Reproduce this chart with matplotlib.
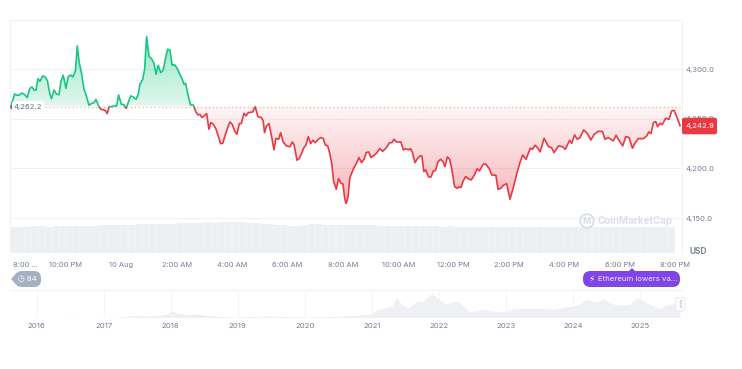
import matplotlib
matplotlib.use("Agg")
import matplotlib.pyplot as plt
import numpy as np
from matplotlib.patches import Circle, FancyBboxPatch, Polygon, Rectangle
from matplotlib.ticker import FuncFormatter
from matplotlib.transforms import ScaledTranslation

plt.rcParams['font.family'] = ['Inter', 'DejaVu Sans']

# hours since 8:00 PM on the day before
hours = [0.01, 0.07, 0.15, 0.22, 0.30, 0.41, 0.52, 0.60, 0.70, 0.77, 0.86, 0.92, 0.99, 1.06, 1.16, 1.24, 1.33, 1.42,
         1.48, 1.57, 1.66, 1.75, 1.82, 1.90, 2.00, 2.08, 2.17, 2.25, 2.34, 2.41, 2.48, 2.57, 2.65, 2.72, 2.83, 2.93,
         3.02, 3.08, 3.19, 3.26, 3.37, 3.42, 3.49, 3.56, 3.65, 3.73, 3.83, 3.90, 4.00, 4.09, 4.17, 4.25, 4.33, 4.43,
         4.53, 4.61, 4.67, 4.77, 4.84, 4.91, 5.00, 5.09, 5.18, 5.25, 5.33, 5.42, 5.51, 5.60, 5.67, 5.75, 5.84, 5.92,
         6.02, 6.11, 6.20, 6.26, 6.32, 6.42, 6.50, 6.60, 6.69, 6.77, 6.84, 6.91, 6.98, 7.08, 7.16, 7.23, 7.32, 7.41,
         7.50, 7.58, 7.66, 7.74, 7.84, 7.92, 8.00, 8.09, 8.17, 8.26, 8.33, 8.43, 8.50, 8.58, 8.74, 8.83, 8.93, 9.06,
         9.12, 9.17, 9.24, 9.33, 9.42, 9.51, 9.58, 9.68, 9.75, 9.84, 9.96, 10.09, 10.17, 10.24, 10.34, 10.42, 10.52,
         10.59, 10.66, 10.75, 10.83, 10.92, 11.00, 11.11, 11.20, 11.29, 11.36, 11.45, 11.53, 11.60, 11.66, 11.76,
         11.84, 11.93, 12.00, 12.06, 12.11, 12.18, 12.25, 12.37, 12.49, 12.58, 12.67, 12.76, 12.84, 12.93, 13.01,
         13.13, 13.21, 13.33, 13.43, 13.57, 13.68, 13.77, 13.84, 13.94, 14.09, 14.18, 14.26, 14.36, 14.44, 14.51,
         14.60, 14.69, 14.78, 14.85, 14.92, 14.99, 15.09, 15.18, 15.26, 15.34, 15.43, 15.52, 15.61, 15.68, 15.77,
         15.85, 15.93, 16.03, 16.13, 16.19, 16.26, 16.34, 16.43, 16.52, 16.63, 16.74, 16.85, 16.93, 17.06, 17.16,
         17.28, 17.37, 17.52, 17.60, 17.70, 17.79, 17.91, 18.03, 18.15, 18.27, 18.39, 18.49, 18.61, 18.76, 18.84,
         18.94, 19.02, 19.12, 19.26, 19.42, 19.53, 19.62, 19.78, 19.92, 20.03, 20.18, 20.26, 20.36, 20.46, 20.56,
         20.69, 20.82, 20.95, 21.07, 21.22, 21.37, 21.46, 21.58, 21.67, 21.76, 21.86, 21.98, 22.10, 22.21, 22.33,
         22.45, 22.55, 22.67, 22.85, 22.97, 23.04, 23.12, 23.21, 23.29, 23.36, 23.45, 23.53, 23.65, 23.77, 23.87,
         23.95, 24.05, 24.17]
prices = [4262.2, 4267.9, 4274.9, 4273.6, 4273.6, 4275.9, 4273.9, 4271.2, 4280.6, 4281.9, 4278.6, 4278.9, 4290.3,
          4287.6, 4293.0, 4292.3, 4288.3, 4274.6, 4270.2, 4278.9, 4274.6, 4274.2, 4288.0, 4293.7, 4280.6, 4292.3,
          4294.0, 4292.0, 4298.0, 4323.2, 4306.4, 4294.7, 4279.6, 4274.6, 4263.5, 4265.5, 4266.2, 4269.5, 4262.2,
          4259.5, 4258.8, 4258.1, 4255.1, 4262.2, 4262.2, 4262.8, 4262.8, 4273.9, 4264.5, 4264.2, 4260.5, 4266.2,
          4272.9, 4271.9, 4269.5, 4274.6, 4284.6, 4289.6, 4299.7, 4332.6, 4312.4, 4310.4, 4305.7, 4294.7, 4303.7,
          4296.4, 4299.0, 4311.4, 4319.8, 4319.5, 4303.7, 4304.4, 4300.4, 4294.7, 4289.6, 4284.6, 4285.6, 4272.2,
          4263.8, 4263.8, 4256.8, 4253.8, 4254.4, 4251.1, 4252.8, 4255.1, 4239.4, 4246.1, 4244.4, 4240.0, 4232.6,
          4224.9, 4225.3, 4232.6, 4241.0, 4246.7, 4244.4, 4237.7, 4234.3, 4245.1, 4245.1, 4255.4, 4252.8, 4256.1,
          4256.8, 4262.2, 4252.1, 4251.1, 4247.7, 4236.0, 4242.7, 4245.1, 4232.7, 4218.6, 4230.3, 4229.3, 4236.0,
          4226.6, 4222.6, 4221.9, 4226.6, 4223.3, 4208.2, 4209.9, 4215.9, 4220.9, 4223.3, 4232.0, 4224.9, 4228.3,
          4225.9, 4229.3, 4231.0, 4230.0, 4223.6, 4222.6, 4214.2, 4204.2, 4187.4, 4179.0, 4189.7, 4185.0, 4184.4,
          4170.6, 4164.6, 4170.6, 4190.7, 4199.1, 4205.2, 4210.9, 4205.8, 4209.2, 4215.9, 4216.6, 4210.9, 4213.2,
          4215.2, 4219.9, 4217.2, 4220.9, 4225.9, 4225.9, 4229.3, 4226.6, 4226.6, 4218.6, 4219.9, 4218.6, 4219.9,
          4215.9, 4205.8, 4209.9, 4212.5, 4212.5, 4196.8, 4198.5, 4191.4, 4191.4, 4197.4, 4197.8, 4206.5, 4209.2,
          4207.2, 4201.8, 4211.5, 4209.2, 4199.1, 4181.7, 4180.0, 4181.4, 4180.7, 4187.4, 4191.8, 4189.7, 4188.4,
          4193.1, 4199.8, 4197.4, 4204.2, 4204.2, 4199.8, 4193.4, 4193.1, 4179.0, 4180.0, 4183.0, 4184.7, 4169.0,
          4180.7, 4194.1, 4205.8, 4213.5, 4209.2, 4220.3, 4219.2, 4223.3, 4220.9, 4216.6, 4230.3, 4221.9, 4220.9,
          4215.9, 4222.6, 4221.9, 4219.2, 4228.3, 4225.3, 4233.7, 4229.3, 4231.0, 4238.7, 4235.3, 4228.6, 4234.3,
          4237.4, 4237.0, 4229.3, 4231.0, 4229.3, 4227.6, 4233.3, 4227.6, 4222.6, 4232.0, 4231.0, 4220.3, 4225.9,
          4230.0, 4230.0, 4232.7, 4236.7, 4235.0, 4246.1, 4247.1, 4242.0, 4245.4, 4244.1, 4250.4, 4249.4, 4257.8,
          4258.5, 4252.1, 4242.9]
open_price = 4262.2

# volume bars, one per 15 minutes (relative height)
volume = [26.6, 26.8, 26.5, 26.9, 27.0, 26.8, 27.1, 27.0, 27.2, 27.0, 27.4, 27.2, 27.6, 28.0, 28.4, 28.2, 28.8, 28.6,
          29.0, 29.3, 29.0, 29.5, 29.8, 29.6, 30.1, 30.4, 30.2, 30.7, 31.0, 30.8, 31.3, 31.2, 31.0, 31.1, 30.6, 30.0,
          29.4, 29.0, 28.6, 28.0, 27.6, 27.8, 28.4, 29.0, 29.1, 28.8, 28.6, 28.8, 28.6, 28.5, 28.6, 28.4, 28.0, 27.8,
          27.5, 27.8, 27.6, 27.4, 27.2, 27.4, 27.1, 27.0, 26.8, 26.9, 26.5, 26.3, 26.6, 26.3, 26.5, 26.3, 26.6, 26.4,
          26.2, 26.5, 26.3, 26.6, 26.4, 26.2, 26.4, 26.3, 26.5, 26.2, 26.4, 26.3, 26.5, 26.2, 26.3, 26.4, 26.2, 26.3,
          26.4, 26.2, 26.3, 26.1, 26.2, 26.0]

hour_ticks = [0, 2, 4, 6, 8, 10, 12, 14, 16, 18, 20, 22, 24]
hour_labels = ['8:00 ...', '10:00 PM', '10 Aug', '2:00 AM', '4:00 AM', '6:00 AM', '8:00 AM', '10:00 AM', '12:00 PM',
               '2:00 PM', '4:00 PM', '6:00 PM', '8:00 PM']
price_ticks = [4150, 4200, 4250, 4300]

# full history for the navigator
nav_years = [2015.6, 2016, 2016.2, 2016.5, 2017, 2017.2, 2017.45, 2017.6, 2017.8, 2017.95, 2018.03, 2018.1, 2018.2,
             2018.3, 2018.37, 2018.5, 2018.7, 2018.95, 2019, 2019.4, 2019.5, 2019.7, 2020, 2020.2, 2020.5, 2020.65,
             2020.9, 2021, 2021.1, 2021.2, 2021.3, 2021.37, 2021.45, 2021.55, 2021.62, 2021.7, 2021.75, 2021.85,
             2021.9, 2022, 2022.1, 2022.25, 2022.33, 2022.45, 2022.55, 2022.65, 2022.8, 2022.95, 2023, 2023.1, 2023.3,
             2023.5, 2023.7, 2023.9, 2024, 2024.1, 2024.2, 2024.35, 2024.45, 2024.6, 2024.7, 2024.85, 2024.95, 2025.05,
             2025.15, 2025.3, 2025.4, 2025.5, 2025.6]
nav_values = [1, 1, 10, 14, 8, 40, 350, 300, 300, 750, 1250, 900, 600, 500, 750, 470, 220, 110, 140, 270, 290, 180, 130,
              130, 240, 400, 550, 740, 1700, 1900, 2400, 4000, 2500, 2000, 2700, 3400, 3000, 4400, 4700, 3700, 2700,
              3300, 2800, 1200, 1300, 1700, 1300, 1200, 1250, 1650, 1900, 1900, 1650, 2100, 2300, 2700, 3600, 3100,
              3700, 2700, 2500, 2600, 3900, 3300, 2600, 1700, 2500, 2800, 3000]
year_ticks = list(range(2016, 2026))

GREEN = '#16c784'
RED = '#ea3943'
GRID = '#eff2f5'
TXT = '#747f92'
W, H = 742, 369


def px_axes(x0, y0, x1, y1, **kw):
    return fig.add_axes([x0 / W, 1 - y1 / H, (x1 - x0) / W, (y1 - y0) / H], **kw)


fig = plt.figure(figsize=(7.42, 3.69), dpi=100)

# volume sits under the price axes
ax_vol = px_axes(10, 218, 682, 253.3)
vol_t = np.arange(len(volume)) * 0.25 + 0.12
ax_vol.bar(vol_t, volume, width=0.25, color='#f0f2f5', linewidth=0, zorder=0)
ax_vol.bar(vol_t, volume, width=0.2, color='#edeff3', linewidth=0)
ax_vol.set_xlim(-0.02, 24.24)
ax_vol.set_ylim(0, 35.3)
ax_vol.axis('off')

ax = px_axes(10, 20, 682, 253.3)
ax.patch.set_alpha(0)
ax.set_xlim(-0.02, 24.24)
ax.set_ylim(4114.6, 4349.3)
for s in ['top', 'left', 'bottom']:
    ax.spines[s].set_visible(False)
ax.spines['right'].set_color(GRID)
ax.spines['right'].set_linewidth(0.8)
ax.axvline(-0.02, color=GRID, lw=0.8)
ax.axhline(4349.3, color=GRID, lw=0.8)
ax.set_yticks(price_ticks)
ax.yaxis.tick_right()
ax.yaxis.set_major_formatter(FuncFormatter(lambda v, p: f'{v:,.1f}'))
ax.tick_params(axis='y', length=0, labelsize=5.5, labelcolor=TXT, pad=2.8)
ax.grid(axis='y', color=GRID, lw=0.8)
ax.set_axisbelow(True)
ax.set_xticks(hour_ticks)
ax.set_xticklabels(hour_labels)
ax.tick_params(axis='x', length=0, labelsize=5.4, labelcolor=TXT, pad=6)
first = ax.get_xticklabels()[0]
first.set_ha('left')
first.set_transform(first.get_transform() + ScaledTranslation(2 / 100, 0, fig.dpi_scale_trans))

# gradient fill, green above the open price and red below
ys = np.linspace(4349.3, 4114.6, 300)
grad = np.zeros((300, 1, 4))
up = ys >= open_price
grad[up, 0, :3] = matplotlib.colors.to_rgb(GREEN)
grad[up, 0, 3] = 0.13 + (ys[up] - open_price) / 70 * 0.32
grad[~up, 0, :3] = matplotlib.colors.to_rgb(RED)
grad[~up, 0, 3] = 0.05 + (open_price - ys[~up]) / 100 * 0.32
area = ax.fill_between(hours, prices, open_price, color='none')
img = ax.imshow(grad, extent=[-0.02, 24.24, 4114.6, 4349.3], aspect='auto', zorder=1.5)
img.set_clip_path(area.get_paths()[0], ax.transData)
ax.set_xlim(-0.02, 24.24)
ax.set_ylim(4114.6, 4349.3)

ax.axhline(open_price, color='#d9a9a0', lw=0.8, ls=(0, (1, 2.5)), zorder=2)

line_up, = ax.plot(hours, prices, color=GREEN, lw=1.2, zorder=3)
line_up.set_clip_path(Rectangle((-1, open_price), 30, 200, transform=ax.transData))
line_dn, = ax.plot(hours, prices, color=RED, lw=1.2, zorder=3)
line_dn.set_clip_path(Rectangle((-1, open_price - 200), 30, 200, transform=ax.transData))

# navigator
ax_nav = px_axes(10, 290, 682, 317.5)
ax_nav.fill_between(nav_years, nav_values, 0, color='#eef0f3', lw=0)
ax_nav.set_xlim(2015.6, 2025.63)
ax_nav.set_ylim(0, 5500)
for s in ['left', 'right', 'bottom']:
    ax_nav.spines[s].set_visible(False)
ax_nav.spines['top'].set_color(GRID)
ax_nav.spines['top'].set_linewidth(0.8)
ax_nav.set_yticks([])
ax_nav.set_xticks(year_ticks)
ax_nav.set_xticklabels([str(y) for y in year_ticks])
ax_nav.tick_params(axis='x', length=0, labelsize=5.6, labelcolor=TXT, pad=4)
ax_nav.grid(axis='x', color='#f4f5f7', lw=0.8)
ax_nav.set_axisbelow(True)

# overlay in pixel coordinates for the labels and badges
ov = fig.add_axes([0, 0, 1, 1], zorder=10)
ov.set_xlim(0, W)
ov.set_ylim(H, 0)
ov.axis('off')
ov.patch.set_alpha(0)


def pill(x0, y0, x1, y1, r, color, **kw):
    ov.add_patch(FancyBboxPatch((x0 + r, y0 + r), x1 - x0 - 2 * r, y1 - y0 - 2 * r,
                                boxstyle=f'round,pad={r},rounding_size={r}', fc=color, ec='none', **kw))


# open price label
pill(12, 101, 44, 113.5, 3, 'white')
ov.text(14, 107.5, '4,262.2', fontsize=5.5, color='#616e85', va='center')
ov.add_patch(Polygon([[10, 107.5], [12, 105], [12, 110]], fc=RED, ec='none'))

# last price tag
pill(682, 117.7, 717, 134.3, 2, RED)
ov.text(699.5, 126, '4,242.9', fontsize=5.5, color='white', ha='center', va='center')
ov.text(698, 251, 'USD', fontsize=6, color='#7d8799', fontweight='bold', ha='center', va='center')

# watermark
ov.add_patch(Circle((587, 221), 6.8, fc='none', ec='#d8dce4', lw=1.3))
ov.text(587, 221.3, 'M', fontsize=6.5, color='#d8dce4', fontweight='bold', ha='center', va='center')
ov.text(598, 221.5, 'CoinMarketCap', fontsize=7, color='#dde0e7', fontweight='bold', va='center')

# events badge
pill(15, 271, 41, 287, 7, '#a6b0c3')
ov.add_patch(Polygon([[11, 279], [17, 272.5], [17, 285.5]], fc='#a6b0c3', ec='none'))
ov.text(27, 279, '◷ 84', fontsize=5.6, color='white', ha='center', va='center')

# news badge
pill(583, 271, 680, 287, 7.5, '#7f45e6')
ov.add_patch(Polygon([[628, 272], [632, 268], [636, 272]], fc='#7f45e6', ec='none'))
ov.text(591, 279, '⚡', fontsize=6.5, color='white', ha='center', va='center')
ov.text(598, 279, 'Ethereum lowers va...', fontsize=5.6, color='#f0e9fd', va='center')

# navigator handle
pill(675.5, 297.5, 685, 311, 3, 'white')
ov.add_patch(FancyBboxPatch((675.5, 297.5), 9.5, 13.5, boxstyle='round,pad=0,rounding_size=3',
                            fc='none', ec='#e3e6ec', lw=0.6))
ov.text(680.2, 304, '||', fontsize=5, color='#a6b0c3', ha='center', va='center')

fig.savefig('out.png', dpi=100)
